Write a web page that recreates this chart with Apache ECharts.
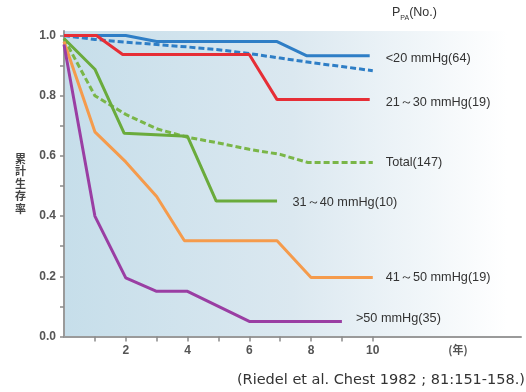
<!DOCTYPE html>
<html>
<head>
<meta charset="utf-8">
<script src="https://cdn.jsdelivr.net/npm/echarts@6/dist/echarts.min.js"></script>
<style>html,body{margin:0;padding:0;background:#fff}#c{width:526px;height:392px}</style>
</head>
<body>
<div id="c"></div>
<script>
// Survival curves (x = years, y = cumulative survival)
var lt20 = [[0,1.0],[2,1.0],[3,0.98],[6.9,0.98],[7.85,0.933],[9.9,0.933]];
var lt20Trend = [[0,1.0],[1,0.987],[2,0.978],[3,0.97],[4,0.962],[5,0.953],[6,0.94],[7,0.925],[8,0.91],[9,0.897],[10,0.883]];
var p2130 = [[0,1.0],[1.05,1.0],[1.9,0.937],[6.0,0.937],[6.9,0.787],[9.9,0.787]];
var total = [[0,0.99],[1,0.8],[2,0.738],[3,0.69],[4,0.662],[5,0.643],[6,0.622],[7,0.605],[7.9,0.578],[10,0.578]];
var p3140 = [[0,0.99],[1,0.888],[1.95,0.675],[4,0.665],[4.93,0.45],[6.9,0.45]];
var p4150 = [[0,0.98],[1,0.68],[2,0.58],[3,0.465],[3.9,0.318],[6.9,0.318],[8,0.196],[10,0.196]];
var gt50 = [[0,0.97],[1,0.4],[2,0.195],[3,0.15],[4,0.15],[6,0.05],[9,0.05]];

var seriesNames = ['<20 mmHg(64)','21～30 mmHg(19)','Total(147)','31～40 mmHg(10)','41～50 mmHg(19)','>50 mmHg(35)'];
var xTicks = [1,2,3,4,5,6,7,8,9,10];
var xLabels = [2,4,6,8,10];
var yTicks = [0,0.1,0.2,0.3,0.4,0.5,0.6,0.7,0.8,0.9,1.0];
var yLabels = [0,0.2,0.4,0.6,0.8,1.0];

var chart = echarts.init(document.getElementById('c'), null, {renderer:'canvas'});
var lblFont = {color:'#333', fontSize:12.7, fontFamily:'Liberation Sans'};
function mk(name, data, color, dashed, dist, dy){
  return {
    type:'line', name:name, data:data, symbol:'none', z: dashed?3:4,
    lineStyle:{color:color, width:3, type: dashed?[6,3]:'solid'},
    endLabel: dist===null ? {show:false} : Object.assign({show:true, formatter:name, distance:dist, offset:[0,dy]}, lblFont),
    emphasis:{disabled:true}, silent:true
  };
}
var option = {
  animation:false,
  grid:{left:64, right:5, top:31, bottom:55.5, show:true, borderWidth:0,
    backgroundColor:new echarts.graphic.LinearGradient(0,0,1,0,[
      {offset:0,color:'#c6deea'},{offset:0.5,color:'#dbe8f0'},{offset:0.97,color:'#ffffff'}])},
  xAxis:{type:'value', min:0, max:14.8,
    axisLine:{show:true, lineStyle:{color:'#9a9a9a', width:2}},
    axisTick:{show:true, length:5, customValues:xTicks, lineStyle:{color:'#8a8a8a', width:1.5}},
    axisLabel:{customValues:xLabels, margin:8, color:'#555', fontSize:12, fontWeight:'bold', fontFamily:'Liberation Sans'},
    splitLine:{show:false}},
  yAxis:{type:'value', min:0, max:1.015,
    name:'累\n計\n生\n存\n率', nameLocation:'middle', nameRotate:0, nameGap:38,
    nameTextStyle:{color:'#444', fontSize:11, lineHeight:12.5, fontWeight:'bold', fontFamily:'Noto Sans CJK JP'},
    axisLine:{show:true, lineStyle:{color:'#9a9a9a', width:2}},
    axisTick:{show:true, length:4, customValues:yTicks, lineStyle:{color:'#8a8a8a', width:1.5}},
    axisLabel:{customValues:yLabels, margin:8, color:'#555', fontSize:12, fontWeight:'bold', fontFamily:'Liberation Sans',
      formatter:function(v){return v.toFixed(1);}},
    splitLine:{show:false}},
  series:[
    mk('trend', lt20Trend, '#2e7ec6', true, null, 0),
    mk(seriesNames[0], lt20, '#2e7ec6', false, 16, 3),
    mk(seriesNames[1], p2130, '#e62e36', false, 16, 3),
    mk(seriesNames[2], total, '#7ab648', true, 13, 0),
    mk(seriesNames[3], p3140, '#6aab3c', false, 15.5, 1),
    mk(seriesNames[4], p4150, '#f59b4c', false, 13, 0),
    mk(seriesNames[5], gt50, '#9a3ea3', false, 14, -3)
  ],
  graphic:[
    {type:'text', left:392, top:6, style:{text:'{p|P}{s|PA}{p|(No.)}', rich:{
      p:{fontSize:12.5, fontFamily:'Liberation Sans', fill:'#333', verticalAlign:'bottom'},
      s:{fontSize:7, fontFamily:'Liberation Sans', fill:'#333', verticalAlign:'bottom', padding:[0,0,-3,0]}}}},
    {type:'text', x:458, y:350, style:{text:'(年)', fontSize:11, fontWeight:'bold', fontFamily:'Noto Sans CJK JP', fill:'#555', align:'center', verticalAlign:'middle'}},
    {type:'text', x:525, y:380, style:{text:'(Riedel et al. Chest 1982 ; 81:151-158.)', fontSize:14.5, fontFamily:'DejaVu Sans', fill:'#333', align:'right', verticalAlign:'middle'}}
  ]
};
chart.setOption(option);
</script>
</body>
</html>
